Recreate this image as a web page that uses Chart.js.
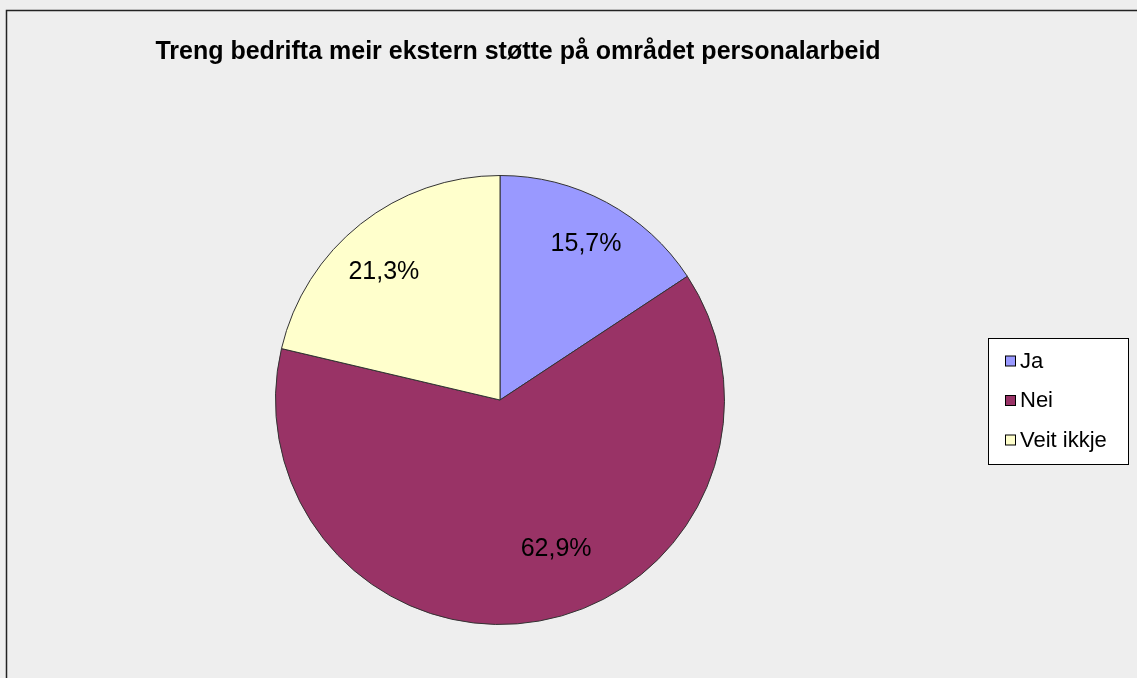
<!DOCTYPE html>
<html>
<head>
<meta charset="utf-8">
<script src="https://cdn.jsdelivr.net/npm/chart.js@4"></script>
<style>
  html, body { margin: 0; padding: 0; background: #eeeeee; }
  #wrap { width: 1137px; height: 678px; }
</style>
</head>
<body>
<div id="wrap"><canvas id="chart" width="1137" height="678"></canvas></div>
<script>
// Data
const title = 'Treng bedrifta meir ekstern støtte på området personalarbeid';
const categories = ['Ja', 'Nei', 'Veit ikkje'];
const shares = [15.7, 62.9, 21.3];
const colors = ['#9999ff', '#993366', '#ffffcc'];

// label placement tweaks (px), per slice
const labelNudge = [[2, 0], [25, -26], [-6, 11]];

const fmt = v => v.toFixed(1).replace('.', ',') + '%';

// Background, frame, title, slice labels and legend box
const decor = {
    id: 'decor',
    beforeDraw(chart) {
        const ctx = chart.ctx;
        ctx.save();
        ctx.fillStyle = '#eeeeee';
        ctx.fillRect(0, 0, chart.width, chart.height);
        ctx.strokeStyle = '#222';
        ctx.lineWidth = 1.5;
        ctx.strokeRect(6.5, 10.5, chart.width + 20, chart.height + 20);
        ctx.restore();
    },
    afterDraw(chart) {
        const ctx = chart.ctx;
        ctx.save();
        // title
        ctx.fillStyle = '#000';
        ctx.font = 'bold 25px "Liberation Sans", Arial, sans-serif';
        ctx.textAlign = 'center';
        ctx.textBaseline = 'middle';
        ctx.fillText(title, 518, 52);

        // slice labels
        const meta = chart.getDatasetMeta(0);
        ctx.font = '25px "Liberation Sans", Arial, sans-serif';
        meta.data.forEach((arc, i) => {
            const p = arc.getProps(['x', 'y', 'startAngle', 'endAngle', 'outerRadius'], true);
            const mid = (p.startAngle + p.endAngle) / 2;
            const r = p.outerRadius * 0.79;
            const x = p.x + Math.cos(mid) * r + labelNudge[i][0];
            const y = p.y + Math.sin(mid) * r + labelNudge[i][1];
            ctx.fillText(fmt(shares[i]), x, y);
        });

        // legend
        ctx.fillStyle = '#ffffff';
        ctx.fillRect(988.5, 338.5, 140, 126);
        ctx.strokeStyle = '#000';
        ctx.lineWidth = 1;
        ctx.strokeRect(988.5, 338.5, 140, 126);
        ctx.font = '22px "Liberation Sans", Arial, sans-serif';
        ctx.textAlign = 'left';
        categories.forEach((c, i) => {
            const cy = 360.5 + i * 39.5;
            ctx.fillStyle = colors[i];
            ctx.fillRect(1005.5, cy - 4.5, 10, 10);
            ctx.strokeStyle = '#000';
            ctx.strokeRect(1005.5, cy - 4.5, 10, 10);
            ctx.fillStyle = '#000';
            ctx.fillText(c, 1020, cy + 1);
        });
        ctx.restore();
    }
};

new Chart(document.getElementById('chart'), {
    type: 'pie',
    data: {
        labels: categories,
        datasets: [{
            data: shares,
            backgroundColor: colors,
            borderColor: '#333333',
            borderWidth: 1
        }]
    },
    options: {
        responsive: false,
        animation: false,
        layout: { padding: { left: 275, top: 175, right: 412, bottom: 53 } },
        plugins: {
            legend: { display: false },
            tooltip: { enabled: false }
        }
    },
    plugins: [decor]
});
</script>
</body>
</html>
